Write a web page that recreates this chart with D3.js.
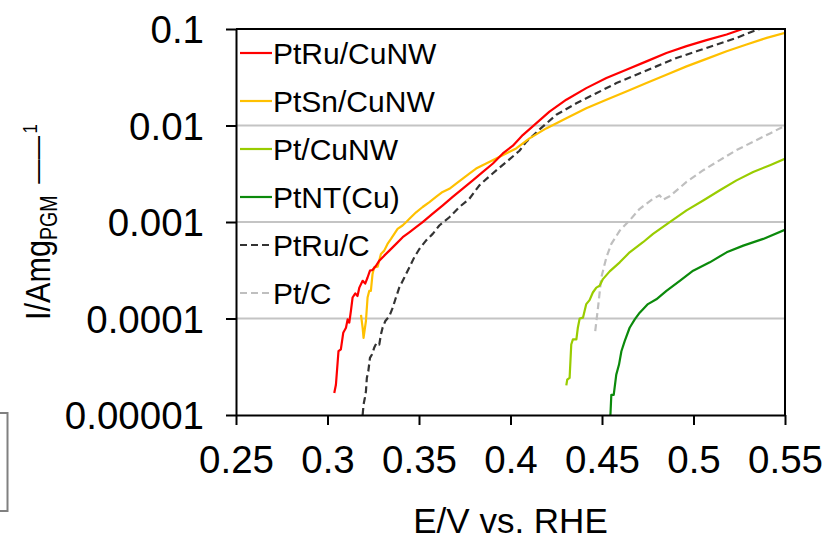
<!DOCTYPE html>
<html>
<head>
<meta charset="utf-8">
<script src="https://cdn.jsdelivr.net/npm/d3@7"></script>
<style>
  html, body { margin: 0; padding: 0; background: #fff; }
  svg { display: block; font-family: "Liberation Sans", Arial, sans-serif; }
</style>
</head>
<body>
<svg id="chart" width="827" height="540"></svg>
<script>
// ---------------- DATA ----------------
const seriesNames = ["PtRu/CuNW", "PtSn/CuNW", "Pt/CuNW", "PtNT(Cu)", "PtRu/C", "Pt/C"];

const xTickValues = [0.25, 0.3, 0.35, 0.4, 0.45, 0.5, 0.55];
const xTickLabels = ["0.25", "0.3", "0.35", "0.4", "0.45", "0.5", "0.55"];
const yTickValues = [1e-5, 1e-4, 1e-3, 1e-2, 1e-1];
const yTickLabels = ["0.00001", "0.0001", "0.001", "0.01", "0.1"];

// [E / V vs. RHE, I / A mg_PGM^-1]
const ptRuCuNW = [
  [0.3037,1.69e-5],[0.3046,2.06e-5],[0.3060,4.58e-5],[0.3073,4.78e-5],[0.3086,7.11e-5],
  [0.3101,8.02e-5],[0.3110,9.79e-5],[0.3119,9.06e-5],[0.3128,1.20e-4],[0.3137,1.65e-4],
  [0.3152,1.82e-4],[0.3164,1.71e-4],[0.3174,2.09e-4],[0.3192,2.46e-4],[0.3206,2.30e-4],
  [0.3219,2.66e-4],[0.3232,3.13e-4],[0.3246,3.18e-4],[0.3265,3.52e-4],[0.3283,3.97e-4],
  [0.3310,4.48e-4],[0.3338,5.05e-4],[0.3375,5.93e-4],[0.3411,6.95e-4],[0.3447,7.83e-4],
  [0.3484,8.83e-4],[0.3520,9.95e-4],[0.3575,1.22e-3],[0.3630,1.49e-3],[0.3684,1.82e-3],
  [0.3739,2.22e-3],[0.3794,2.70e-3],[0.3849,3.30e-3],[0.3904,4.04e-3],[0.3958,5.13e-3],
  [0.4013,6.17e-3],[0.4067,7.96e-3],[0.4140,0.0105],[0.4213,0.0139],[0.4305,0.0185],
  [0.4414,0.0244],[0.4524,0.0310],[0.4633,0.0378],[0.4743,0.0462],[0.4852,0.0565],
  [0.4962,0.0664],[0.5071,0.0766],[0.5181,0.0877],[0.5272,0.1005],[0.5300,0.104]
];
const ptSnCuNW = [
  [0.3183,1.09e-4],[0.3192,8.02e-5],[0.3197,6.31e-5],[0.3210,9.42e-5],[0.3219,1.65e-4],
  [0.3228,1.93e-4],[0.3237,1.93e-4],[0.3246,2.88e-4],[0.3255,3.39e-4],[0.3274,3.44e-4],
  [0.3292,4.66e-4],[0.3310,5.05e-4],[0.3328,5.93e-4],[0.3347,6.68e-4],[0.3365,7.53e-4],
  [0.3383,8.49e-4],[0.3410,9.20e-4],[0.3429,9.95e-4],[0.3456,1.12e-3],[0.3484,1.26e-3],
  [0.3520,1.43e-3],[0.3557,1.61e-3],[0.3593,1.82e-3],[0.3629,2.05e-3],[0.3666,2.21e-3],
  [0.3703,2.50e-3],[0.3739,2.82e-3],[0.3775,3.18e-3],[0.3812,3.58e-3],[0.3867,4.04e-3],
  [0.3922,4.55e-3],[0.3976,5.13e-3],[0.4031,5.78e-3],[0.4104,7.35e-3],[0.4195,9.33e-3],
  [0.4305,0.0119],[0.4414,0.0151],[0.4524,0.0185],[0.4633,0.0225],[0.4743,0.0275],
  [0.4852,0.0336],[0.4962,0.0410],[0.5071,0.0490],[0.5181,0.0587],[0.5290,0.0690],
  [0.5400,0.0809],[0.5501,0.0912]
];
const ptCuNW = [
  [0.4305,2.03e-5],[0.4310,2.32e-5],[0.4323,2.42e-5],[0.4332,5.38e-5],[0.4341,6.07e-5],
  [0.4360,6.07e-5],[0.4368,8.02e-5],[0.4378,1.00e-4],[0.4396,1.02e-4],[0.4414,1.41e-4],
  [0.4432,1.55e-4],[0.4450,1.86e-4],[0.4469,2.09e-4],[0.4487,2.18e-4],[0.4505,2.56e-4],
  [0.4542,3.08e-4],[0.4597,3.82e-4],[0.4651,4.85e-4],[0.4724,6.17e-4],[0.4779,7.53e-4],
  [0.4870,9.95e-4],[0.4962,1.32e-3],[0.5053,1.67e-3],[0.5144,2.13e-3],[0.5235,2.70e-3],
  [0.5326,3.30e-3],[0.5418,3.88e-3],[0.5504,4.55e-3]
];
const ptNTCu = [
  [0.4546,1.00e-5],[0.4551,1.62e-5],[0.4564,1.62e-5],[0.4578,2.62e-5],[0.4593,3.33e-5],
  [0.4606,4.58e-5],[0.4624,5.83e-5],[0.4651,8.02e-5],[0.4679,9.79e-5],[0.4706,1.15e-4],
  [0.4751,1.41e-4],[0.4797,1.58e-4],[0.4852,1.93e-4],[0.4925,2.46e-4],[0.4998,3.13e-4],
  [0.5089,3.82e-4],[0.5181,4.85e-4],[0.5272,5.69e-4],[0.5381,6.68e-4],[0.5504,8.36e-4]
];
const ptRuC = [
  [0.3192,1.00e-5],[0.3197,1.28e-5],[0.3204,1.50e-5],[0.3210,1.76e-5],[0.3215,2.42e-5],
  [0.3223,2.84e-5],[0.3232,3.91e-5],[0.3243,4.24e-5],[0.3255,4.97e-5],[0.3268,5.60e-5],
  [0.3283,5.38e-5],[0.3292,6.84e-5],[0.3301,8.02e-5],[0.3316,9.42e-5],[0.3338,1.06e-4],
  [0.3356,1.29e-4],[0.3374,1.65e-4],[0.3392,2.09e-4],[0.3420,2.66e-4],[0.3447,3.38e-4],
  [0.3474,4.30e-4],[0.3502,5.25e-4],[0.3538,6.41e-4],[0.3575,7.53e-4],[0.3611,9.20e-4],
  [0.3666,1.12e-3],[0.3721,1.43e-3],[0.3775,1.74e-3],[0.3830,2.40e-3],[0.3885,2.98e-3],
  [0.3940,3.66e-3],[0.3994,4.45e-3],[0.4049,5.47e-3],[0.4086,6.76e-3],[0.4159,9.12e-3],
  [0.4250,0.0129],[0.4360,0.0170],[0.4469,0.0216],[0.4579,0.0275],[0.4688,0.0336],
  [0.4797,0.0410],[0.4907,0.0501],[0.5016,0.0587],[0.5126,0.0690],[0.5235,0.0809],
  [0.5326,0.0948],[0.5381,0.103]
];
const ptC = [
  [0.4463,7.41e-5],[0.4478,1.29e-4],[0.4496,2.66e-4],[0.4524,4.30e-4],[0.4551,5.93e-4],
  [0.4597,8.15e-4],[0.4651,1.04e-3],[0.4706,1.37e-3],[0.4779,1.74e-3],[0.4815,1.89e-3],
  [0.4834,1.70e-3],[0.4870,1.85e-3],[0.4962,2.60e-3],[0.5053,3.44e-3],[0.5144,4.38e-3],
  [0.5235,5.56e-3],[0.5326,6.79e-3],[0.5418,8.28e-3],[0.5504,0.01005]
];

const seriesData = [ptRuCuNW, ptSnCuNW, ptCuNW, ptNTCu, ptRuC, ptC];

// ---------------- STYLE / LAYOUT ----------------
const colors = ["#ff0000", "#ffc000", "#99cc00", "#0b8a0b", "#333333", "#bfbfbf"];
const dashes = [null, null, null, null, "7,4", "7,4"];
const FONT = '"Liberation Sans", Arial, sans-serif';

const mLeft = 236, mRight = 785, mTop = 29, mBottom = 415;

const svg = d3.select("#chart");

const x = d3.scaleLinear().domain([0.25, 0.55]).range([mLeft, mRight]);
const y = d3.scaleLog().domain([1e-5, 0.1]).range([mBottom, mTop]);

// artefact box at lower-left edge
svg.append("rect")
  .attr("x", -10).attr("y", 413).attr("width", 17.5).attr("height", 98)
  .attr("fill", "none").attr("stroke", "#808080").attr("stroke-width", 2);

// gridlines
svg.append("g").selectAll("line")
  .data(yTickValues.filter(v => v > 1e-5 && v < 0.1))
  .join("line")
  .attr("x1", mLeft).attr("x2", mRight)
  .attr("y1", d => y(d)).attr("y2", d => y(d))
  .attr("stroke", "#c4c4c4").attr("stroke-width", 1.8);

// clip
svg.append("defs").append("clipPath").attr("id", "plotclip")
  .append("rect").attr("x", mLeft).attr("y", mTop)
  .attr("width", mRight - mLeft).attr("height", mBottom - mTop);

const line = d3.line().x(d => x(d[0])).y(d => y(d[1]));

const curves = svg.append("g").attr("clip-path", "url(#plotclip)");
const order = [5, 3, 2, 4, 1, 0];
order.forEach(i => {
  curves.append("path")
    .datum(seriesData[i])
    .attr("d", line)
    .attr("fill", "none")
    .attr("stroke", colors[i])
    .attr("stroke-width", 2.2)
    .attr("stroke-linejoin", "round")
    .attr("stroke-dasharray", dashes[i]);
});

// axes
const yAxis = d3.axisLeft(y)
  .tickValues(yTickValues)
  .tickFormat((d, i) => yTickLabels[i])
  .tickSize(10).tickSizeOuter(0).tickPadding(22);
const gy = svg.append("g").attr("transform", `translate(${mLeft},0)`).call(yAxis);
gy.select(".domain").attr("stroke", "#000").attr("stroke-width", 2);
gy.selectAll(".tick line").attr("stroke", "#000").attr("stroke-width", 2);
gy.selectAll(".tick text").attr("font-family", FONT).attr("font-size", 38.5)
  .attr("fill", "#000").attr("dy", "0.36em");

const xAxis = d3.axisBottom(x)
  .tickValues(xTickValues)
  .tickFormat((d, i) => xTickLabels[i])
  .tickSize(10).tickSizeOuter(0).tickPadding(21);
const gx = svg.append("g").attr("transform", `translate(0,${mBottom})`).call(xAxis);
gx.select(".domain").attr("stroke", "#000").attr("stroke-width", 2);
gx.selectAll(".tick line").attr("stroke", "#000").attr("stroke-width", 2);
gx.selectAll(".tick text").attr("font-family", FONT).attr("font-size", 38.5).attr("fill", "#000");

// frame (top and right)
svg.append("path")
  .attr("d", `M${mLeft},${mTop}H${mRight}V${mBottom}`)
  .attr("fill", "none").attr("stroke", "#000").attr("stroke-width", 2);

// axis titles
svg.append("text")
  .attr("x", (mLeft + mRight) / 2).attr("y", 533)
  .attr("text-anchor", "middle")
  .attr("font-family", FONT).attr("font-size", 35).attr("fill", "#000")
  .text("E/V vs. RHE");

const yt = svg.append("text")
  .attr("transform", `translate(50,${(mTop + mBottom) / 2}) rotate(-90) scale(0.85,1)`)
  .attr("text-anchor", "middle")
  .attr("font-family", FONT).attr("fill", "#000");
yt.append("tspan").attr("font-size", 36).text("I/Amg");
yt.append("tspan").attr("font-size", 23).attr("dy", 7).text("PGM");
yt.append("tspan").attr("font-size", 28).attr("dx", 14).attr("dy", -11).text("\u2014\u2014");
yt.append("tspan").attr("font-size", 20).attr("dx", 3).attr("dy", -9).text("1");

// legend
const legend = svg.append("g");
seriesNames.forEach((name, i) => {
  const ly = 53 + i * 48;
  legend.append("line")
    .attr("x1", 240).attr("x2", 272).attr("y1", ly).attr("y2", ly)
    .attr("stroke", colors[i]).attr("stroke-width", 2.2)
    .attr("stroke-dasharray", dashes[i]);
  legend.append("text")
    .attr("x", 273).attr("y", ly + 10.7)
    .attr("font-family", FONT).attr("font-size", 30).attr("fill", "#000")
    .text(name);
});
</script>
</body>
</html>
